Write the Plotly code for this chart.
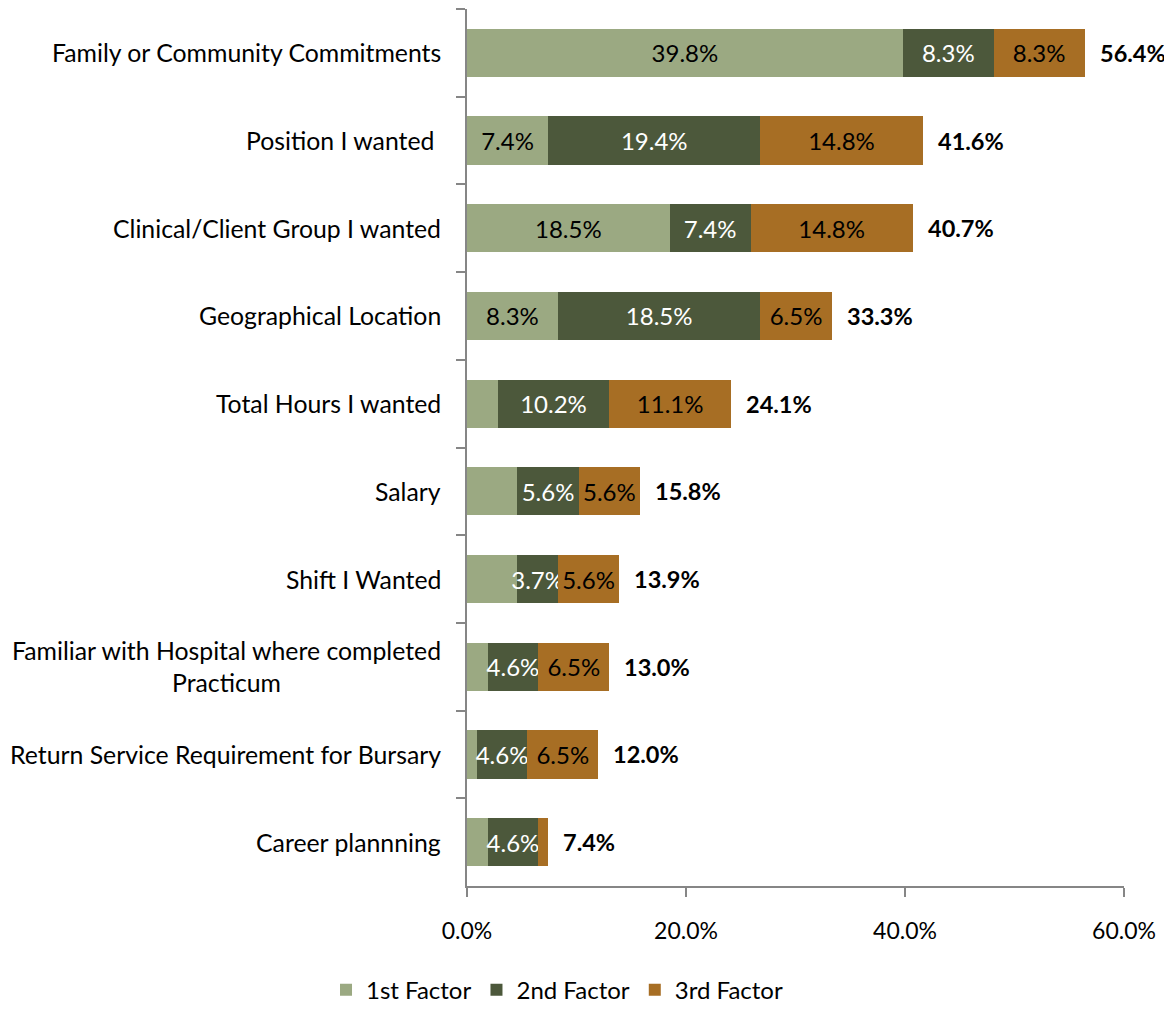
import plotly.graph_objects as go

# Reasons for choosing a position: share of respondents ranking each factor 1st/2nd/3rd
categories = [
    "Family or Community Commitments",
    "Position I wanted ",
    "Clinical/Client Group I wanted",
    "Geographical Location",
    "Total Hours I wanted",
    "Salary",
    "Shift I Wanted",
    "Familiar with Hospital where completed<br>Practicum",
    "Return Service Requirement for Bursary",
    "Career plannning",
]
first_factor = [39.8, 7.4, 18.5, 8.3, 2.8, 4.6, 4.6, 1.9, 0.9, 1.9]
second_factor = [8.3, 19.4, 7.4, 18.5, 10.2, 5.6, 3.7, 4.6, 4.6, 4.6]
third_factor = [8.3, 14.8, 14.8, 6.5, 11.1, 5.6, 5.6, 6.5, 6.5, 0.9]
totals = [56.4, 41.6, 40.7, 33.3, 24.1, 15.8, 13.9, 13.0, 12.0, 7.4]

# which segments carry a value label
first_labelled = [True, True, True, True, False, False, False, False, False, False]
second_labelled = [True] * 10
third_labelled = [True] * 9 + [False]

x_ticks = [0, 20, 40, 60]

series_names = ["1st Factor", "2nd Factor", "3rd Factor"]
series_colors = ["#9BA982", "#4C583B", "#A76E24"]
label_colors = ["#000000", "#FFFFFF", "#000000"]

FONT = "Lato"
AXIS_GREY = "#868686"


def labels(values, flags):
    return [f"{v:.1f}%" if f else "" for v, f in zip(values, flags)]


fig = go.Figure()
for name, vals, flags, color, tcolor in zip(
    series_names,
    [first_factor, second_factor, third_factor],
    [first_labelled, second_labelled, third_labelled],
    series_colors,
    label_colors,
):
    fig.add_trace(
        go.Bar(
            name=name,
            y=categories,
            x=vals,
            orientation="h",
            marker=dict(color=color, line=dict(width=0)),
            text=labels(vals, flags),
            texttemplate="%{text}",
            textposition="inside",
            insidetextanchor="middle",
            textangle=0,
            textfont=dict(family=FONT, size=24, color=tcolor),
            hoverinfo="skip",
        )
    )

annotations = []
# bold totals at the end of each bar
for cat, tot in zip(categories, totals):
    annotations.append(
        dict(
            x=tot, y=cat, xref="x", yref="y",
            text=f"<b>{tot:.1f}%</b>",
            showarrow=False, xanchor="left", yanchor="middle", xshift=13,
            font=dict(family=FONT, size=23.5, color="#000000"),
        )
    )
# category names, centred per line and right-aligned to the axis
for cat in categories:
    annotations.append(
        dict(
            x=0, y=cat, xref="paper", yref="y",
            text=cat,
            showarrow=False, xanchor="right", yanchor="middle", xshift=-24,
            align="center",
            font=dict(family=FONT, size=24.8, color="#000000"),
        )
    )

fig.update_layout(
    width=1164,
    height=1009,
    barmode="stack",
    bargap=0.45,
    paper_bgcolor="white",
    plot_bgcolor="white",
    margin=dict(l=467, r=40, t=9, b=123),
    font=dict(family=FONT, color="#000000"),
    uniformtext=dict(minsize=24, mode="show"),
    showlegend=True,
    legend=dict(
        orientation="h",
        x=-0.2146, xanchor="left",
        yref="container", y=0.0188, yanchor="middle",
        font=dict(family=FONT, size=24, color="#000000"),
        itemwidth=30,
        traceorder="normal",
    ),
    annotations=annotations,
)

fig.update_xaxes(
    range=[0, 60],
    tickvals=x_ticks,
    ticktext=[f"{v:.1f}%" for v in x_ticks],
    showgrid=False,
    zeroline=False,
    showline=True,
    linecolor=AXIS_GREY,
    linewidth=1.5,
    ticks="outside",
    ticklen=9,
    tickcolor=AXIS_GREY,
    tickwidth=1.5,
    tickfont=dict(family=FONT, size=23, color="#000000"),
    ticklabelstandoff=15,
)

fig.update_yaxes(
    type="category",
    autorange="reversed",
    showgrid=False,
    zeroline=False,
    showline=True,
    linecolor=AXIS_GREY,
    linewidth=1.5,
    ticks="outside",
    tickson="boundaries",
    ticklen=9,
    tickcolor=AXIS_GREY,
    tickwidth=1.5,
    showticklabels=False,
)

fig.write_html("out.html")
